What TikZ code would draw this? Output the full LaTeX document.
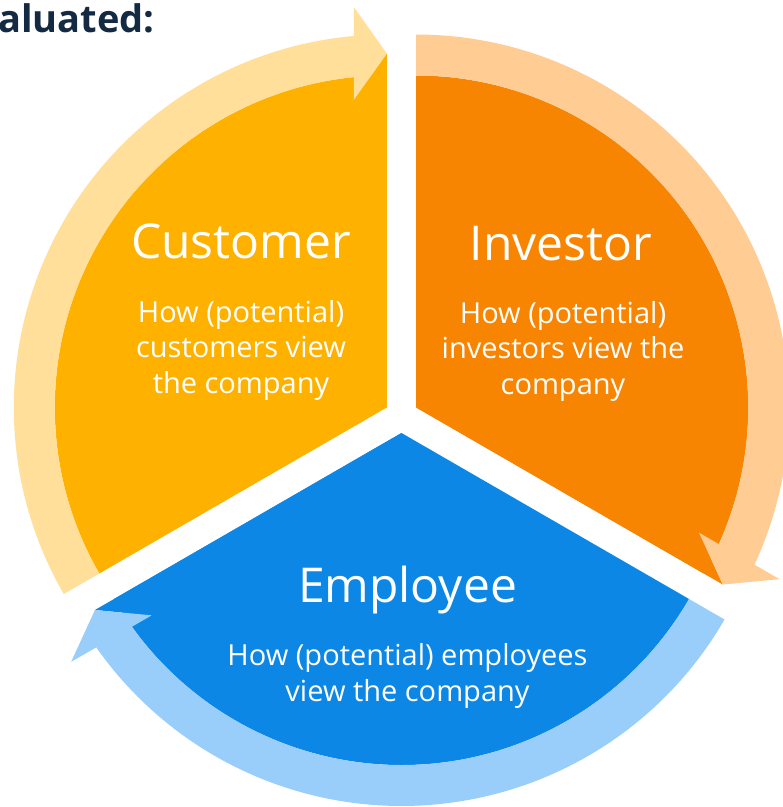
\documentclass[tikz,border=0pt]{standalone}
\usepackage{fontspec}
\setmainfont{Open Sans}
\usetikzlibrary{calc}
\definecolor{custC}{RGB}{255,177,0}
\definecolor{custL}{RGB}{255,223,153}
\definecolor{invC}{RGB}{247,133,2}
\definecolor{invL}{RGB}{255,204,148}
\definecolor{empC}{RGB}{12,135,230}
\definecolor{empL}{RGB}{153,206,250}
\definecolor{titleC}{RGB}{20,41,66}
% #1 centre, #2 start angle, #3 arrow angle, #4 band colour, #5 sector colour
\newcommand\bandarrow[5]{%
 \fill[#5] (#1) -- ($(#1)+(#3:354)$) -- ($(#1)+(#3:354)+(#3+90:33)+(#3:-46.5)$) -- cycle;
 \fill[#4] ($(#1)+(#2:332)$) arc[start angle=#2, end angle={#3+asin(33/332)}, radius=332]
 -- ($(#1)+(#3:354)+(#3+90:33)+(#3:-46.5)$)
 -- ($(#1)+(#3:354)$)
 -- ($(#1)+(#3:354)+(#3+90:33)+(#3:46.5)$)
 -- ($(#1)+({#3+asin(33/373)}:373)$)
 arc[start angle={#3+asin(33/373)}, end angle=#2, radius=373] -- cycle;}
\tikzset{
  head/.style={text=white, inner sep=0pt, anchor=base, font=\fontsize{48}{58}\selectfont},
  body/.style={text=white, inner sep=0pt, anchor=base, align=center, font=\fontsize{29}{35.5}\selectfont},
}
\begin{document}
\begin{tikzpicture}[x=1pt,y=1pt]
\useasboundingbox (0,0) rectangle (783,-807);
\coordinate (Y) at (386.8,-407.5);
\coordinate (O) at (416.2,-407.5);
\coordinate (B) at (401.5,-433);
% sectors
\fill[custC] (Y) -- ++(90:332) arc[start angle=90, end angle=210, radius=332] -- cycle;
\fill[invC] (O) -- ++(-30:332) arc[start angle=-30, end angle=90, radius=332] -- cycle;
\fill[empC] (B) -- ++(210:332) arc[start angle=210, end angle=330, radius=332] -- cycle;
% arrow bands
\bandarrow{Y}{210}{90}{custL}{custC}
\bandarrow{O}{90}{-30}{invL}{invC}
\bandarrow{B}{330}{210}{empL}{empC}
% title
\node[text=titleC, inner sep=0pt, anchor=base west, font=\fontsize{38}{46}\selectfont\bfseries] (title) at (-2,-32) {aluated:};
% texts (base anchor = last line baseline)
\node[head] (custH) at (241,-258) {Customer};
\node[body] (custB) at (241,-393) {How (potential)\\customers view\\the company};
\node[head] (invH) at (561,-260) {Investor};
\node[body] (invB) at (563,-394) {How (potential)\\investors view the\\company};
\node[head] (empH) at (407.5,-602) {Employee};
\node[body] (empB) at (407.5,-701) {How (potential) employees\\view the company};
\end{tikzpicture}
\end{document}
